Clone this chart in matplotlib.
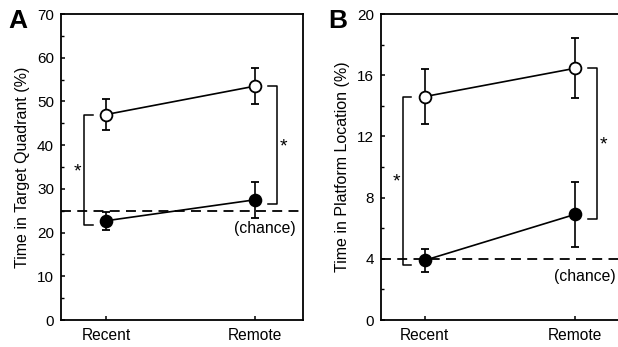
import numpy as np
import matplotlib
matplotlib.use("Agg")
from matplotlib import pyplot as plt

plt.rcParams['font.family'] = ['Liberation Sans', 'DejaVu Sans']

groups = ["Recent", "Remote"]

# panel A: time in target quadrant (%)
a_open = [47.0, 53.5]
a_open_err = [3.5, 4.1]
a_filled = [22.7, 27.5]
a_filled_err = [2.1, 4.1]
a_chance = 25

# panel B: time in platform location (%)
b_open = [14.6, 16.45]
b_open_err = [1.8, 1.95]
b_filled = [3.9, 6.9]
b_filled_err = [0.75, 2.15]
b_chance = 4

fig = plt.figure(figsize=(6.18, 3.47), dpi=100)
axA = fig.add_axes([61/618, 27/347, 242/618, 306/347])
axB = fig.add_axes([381/618, 27/347, 242/618, 306/347])


def panel(ax, opn, opn_e, fil, fil_e, chance, ylim, yticks, minor, ylabel, letter, dx):
    x = np.arange(len(groups))
    span = ylim[1] - ylim[0]
    ax.axhline(chance, color='black', lw=1.3, ls=(0, (5.5, 3.5)), zorder=1)
    ax.errorbar(x, opn, yerr=opn_e, color='black', lw=1.2, capsize=3, capthick=1.2,
                marker='o', ms=8.5, mfc='white', mec='black', mew=1.3, zorder=3)
    ax.errorbar(x, fil, yerr=fil_e, color='black', lw=1.2, capsize=3, capthick=1.2,
                marker='o', ms=8.5, mfc='black', mec='black', mew=1.3, zorder=3)
    # significance brackets
    for i, side in [(0, -1), (1, 1)]:
        xb = x[i] + side * 0.145
        xt = x[i] + side * 0.09
        top, bot = opn[i], fil[i] - 0.015 * span
        ax.plot([xt, xb, xb, xt], [top, top, bot, bot], color='black', lw=1.1)
        ax.text(x[i] + side * 0.19, (top + bot) / 2 - 0.005 * span, '*',
                ha='center', va='center', fontsize=14)
    ax.text(1.065, chance - 0.058 * span, '(chance)', ha='center',
            va='center', fontsize=11.3)
    ax.set_xlim(-dx[0], 1 + dx[1])
    ax.set_ylim(*ylim)
    ax.set_xticks(x)
    ax.set_xticklabels(groups, fontsize=11.2)
    ax.set_yticks(yticks)
    ax.set_yticks(minor, minor=True)
    ax.tick_params(axis='y', direction='in', length=3, width=1.1, labelsize=11)
    ax.tick_params(axis='x', direction='in', length=3, width=1.1, labelsize=11.2)
    ax.tick_params(axis='y', which='minor', direction='in', length=2, width=1)
    ax.tick_params(axis='x', pad=6)
    ax.tick_params(axis='y', pad=5)
    for s in ax.spines.values():
        s.set_linewidth(1.3)
    ax.set_ylabel(ylabel, fontsize=11.5, labelpad=5)
    ax.text(-0.178, 0.954, letter, transform=ax.transAxes, fontsize=19, fontweight='bold',
            ha='center', va='baseline')


panel(axA, a_open, a_open_err, a_filled, a_filled_err, a_chance, (0, 70),
      range(0, 71, 10), range(5, 70, 10), 'Time in Target Quadrant (%)', 'A',
      (0.302, 0.322))
panel(axB, b_open, b_open_err, b_filled, b_filled_err, b_chance, (0, 20),
      range(0, 21, 4), range(2, 20, 4), 'Time in Platform Location (%)', 'B',
      (0.29, 0.32))

fig.savefig("out.png", dpi=100)
